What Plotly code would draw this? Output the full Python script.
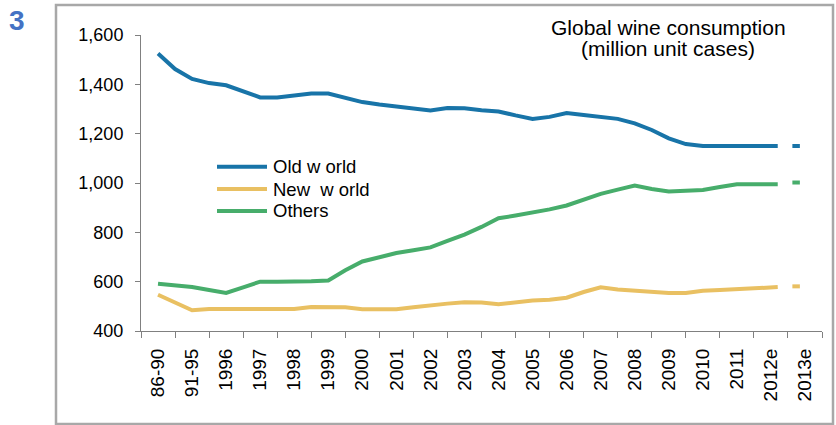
import plotly.graph_objects as go

# ---- data ----
categories = ["86-90", "91-95", "1996", "1997", "1998", "1999", "2000", "2001",
              "2002", "2003", "2004", "2005", "2006", "2007", "2008", "2009",
              "2010", "2011", "2012e", "2013e"]
# period position in category units (half-category steps)
period = [i * 0.5 for i in range(37)] + [18.2]
old_world = [1525, 1462, 1422, 1405, 1396, 1370, 1347, 1347, 1357, 1363,
             1363, 1345, 1328, 1318, 1310, 1303, 1294, 1304, 1303, 1295,
             1290, 1274, 1260, 1268, 1284, 1276, 1269, 1260, 1242, 1215,
             1181, 1158, 1150, 1150, 1150, 1150, 1150, 1150]
new_world = [547, 515, 484, 489, 489, 489, 489, 489, 489, 497,
             497, 496, 488, 488, 488, 496, 505, 511, 517, 516,
             508, 516, 524, 527, 535, 558, 577, 568, 562, 557,
             554, 554, 563, 566, 570, 574, 577, 578]
others = [592, 585, 578, 566, 554, 577, 600, 600, 600, 602,
          605, 646, 682, 700, 716, 727, 739, 765, 791, 822,
          857, 868, 879, 893, 909, 933, 956, 973, 990, 976,
          966, 969, 972, 984, 995, 995, 995, 995]
est_2013 = {"Old w orld": 1150, "New\u00a0 w orld": 581, "Others": 1002}
series_names = ["Old w orld", "New\u00a0 w orld", "Others"]
colors = ["#1874A8", "#E9C062", "#47AD6B"]
series = [old_world, new_world, others]

# ---- layout constants ----
W, H = 836, 425
L, R, T, B = 141, 14, 35, 94
pw, ph = W - L - R, H - T - B
FONT = "Liberation Sans, Arial, sans-serif"


def px(xp):
    return (xp - L) / pw


def py(yp):
    return (H - B - yp) / ph


fig = go.Figure()
est_pos = 18.74
for name, vals, col in zip(series_names, series, colors):
    fig.add_trace(go.Scatter(x=period, y=vals, mode="lines", name=name,
                             line=dict(color=col, width=4), showlegend=False))
    fig.add_trace(go.Scatter(x=[est_pos - 0.11, est_pos + 0.11],
                             y=[est_2013[name]] * 2, mode="lines",
                             line=dict(color=col, width=4), showlegend=False,
                             hoverinfo="skip"))

shapes = [dict(type="rect", xref="paper", yref="paper",
               x0=px(56), x1=px(833), y0=py(424), y1=py(5),
               line=dict(color="#A8A8A8", width=2.5), fillcolor="rgba(0,0,0,0)",
               layer="below")]
annotations = []
leg_rows = [166.7, 189, 211]
for name, col, yr in zip(series_names, colors, leg_rows):
    shapes.append(dict(type="line", xref="paper", yref="paper",
                       x0=px(217), x1=px(267), y0=py(yr), y1=py(yr),
                       line=dict(color=col, width=4)))
    annotations.append(dict(xref="paper", yref="paper", x=px(271), y=py(yr),
                            text=name, showarrow=False, xanchor="left",
                            yanchor="middle",
                            font=dict(family=FONT, size=18.5, color="#000")))

annotations.append(dict(xref="paper", yref="paper", x=px(668), y=py(27),
                        text="Global wine consumption", showarrow=False,
                        xanchor="center", yanchor="middle",
                        font=dict(family=FONT, size=21, color="#000")))
annotations.append(dict(xref="paper", yref="paper", x=px(668), y=py(49),
                        text="(million unit cases)", showarrow=False,
                        xanchor="center", yanchor="middle",
                        font=dict(family=FONT, size=21, color="#000")))
annotations.append(dict(xref="paper", yref="paper", x=px(16.5), y=py(21),
                        text="<b>3</b>", showarrow=False,
                        xanchor="center", yanchor="middle",
                        font=dict(family=FONT, size=28, color="#4472C4")))

fig.update_layout(
    width=W, height=H,
    margin=dict(l=L, r=R, t=T, b=B, pad=0),
    paper_bgcolor="white", plot_bgcolor="white",
    font=dict(family=FONT, color="#000"),
    shapes=shapes, annotations=annotations,
    xaxis=dict(range=[-0.5, 19.5], tickmode="array",
               tickvals=list(range(len(categories))), ticktext=categories,
               tickangle=-90, ticks="", showgrid=False, zeroline=False,
               showline=True, linecolor="#808080", linewidth=1,
               tickfont=dict(family=FONT, size=19, color="#000"),
               ticklabelstandoff=9,
               minor=dict(tickvals=[i - 0.5 for i in range(len(categories) + 1)],
                          ticks="outside", ticklen=6, tickcolor="#808080",
                          tickwidth=1, showgrid=False)),
    yaxis=dict(range=[400, 1600], tickvals=[400, 600, 800, 1000, 1200, 1400, 1600],
               tickformat=",d", ticks="outside", ticklen=5, tickcolor="#808080",
               showgrid=False, zeroline=False, showline=True,
               linecolor="#808080", linewidth=1,
               tickfont=dict(family=FONT, size=18, color="#000"),
               ticklabelstandoff=8),
)

fig.write_html("out.html")
